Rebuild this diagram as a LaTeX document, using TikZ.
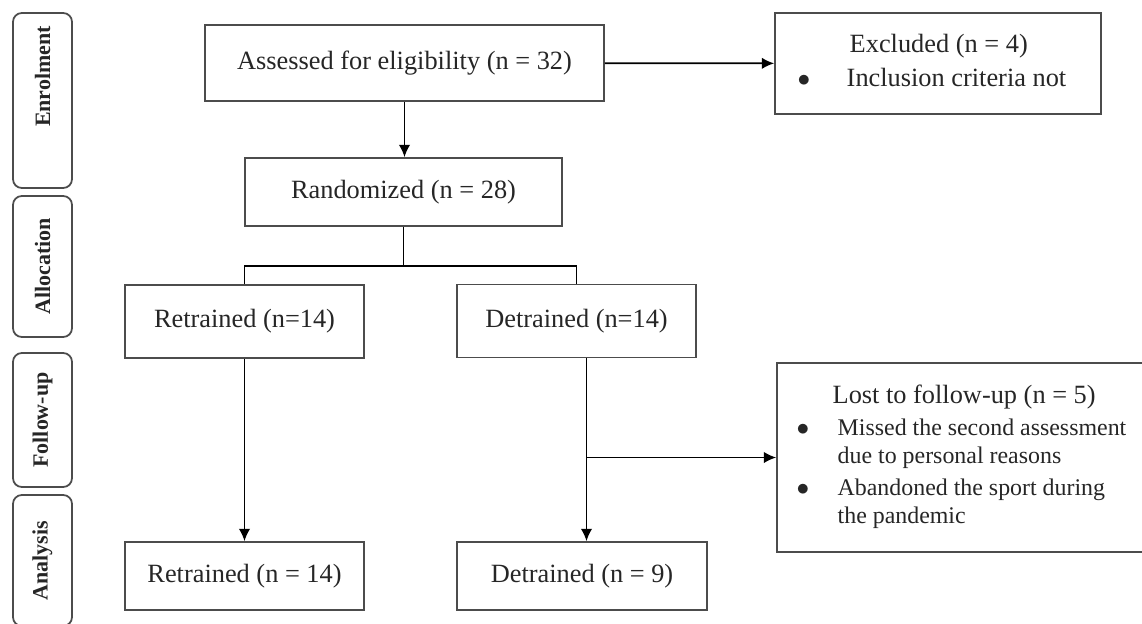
\documentclass[tikz,border=0pt]{standalone}
\usepackage{fontspec}
\setmainfont{Liberation Serif}
\usepackage{tikz}
\usetikzlibrary{arrows.meta, positioning, calc}

\newcommand{\itemsz}{\fontsize{13.6}{15.9}\selectfont}

\begin{document}
\begin{tikzpicture}[x=0.02cm, y=-0.02cm, >={Latex[length=7pt,width=6.5pt]},
line width=1pt,
box/.style={rectangle, draw=black!70, inner sep=0pt, text=black!85,
  font=\fontsize{15}{18}\selectfont},
phase/.style={rectangle, rounded corners=5pt, draw=black!70, rotate=90,
  inner sep=0pt, minimum height=1.18cm, text=black!85,
  font=\bfseries\fontsize{12.5}{14}\selectfont}]

\useasboundingbox (0,0) rectangle (1142,623);

% phases on the left
\node [phase, minimum width=3.5cm, inner xsep=0.26cm, text width=2.98cm,
  align=right] (enrol) at (42.5,100.5) {Enrolment};
\node [phase, minimum width=2.82cm] (alloc) at (42.5,266.5) {Allocation};
\node [phase, minimum width=2.68cm] (follow) at (42.5,420) {Follow-up};
\node [phase, minimum width=2.62cm] (anal) at (42.5,560.5) {Analysis};

% enrolment
\node [box, minimum width=7.98cm, minimum height=1.52cm] (assess) at (404.5,63)
  {Assessed for eligibility (n = 32)};
\node [box, minimum width=6.52cm, minimum height=2.02cm] (excl) at (938,63.5)
  {\begin{tabular}{@{}p{0.98cm}@{}l@{\hspace{0.24cm}}}
   \multicolumn{2}{@{}l@{\hspace{0.24cm}}}{\hspace{1.04cm}Excluded (n = 4)}\\[1.3pt]
   $\bullet$ & Inclusion criteria not
   \end{tabular}};
\path (assess) edge [->] (excl);

% allocation
\node [box, minimum width=6.34cm, minimum height=1.36cm] (rand) at (403.5,192)
  {Randomized (n = 28)};
\draw [->] (assess.south) -- (assess.south |- rand.north);

\node [box, minimum width=4.78cm, minimum height=1.46cm] (retA) at (244.5,321.5)
  {Retrained (n=14)};
\node [box, minimum width=4.78cm, minimum height=1.46cm] (detA) at (576.5,321)
  {Detrained (n=14)};
\coordinate (split) at ([yshift=-0.78cm]rand.south);
\draw (rand.south) -- (split);
\draw (retA.north) |- (split) -| (detA.north);

% follow-up
\node [box, minimum width=7.38cm, minimum height=3.78cm] (lost) at (961.5,457.5)
  {\itemsz\begin{tabular}{@{}p{0.82cm}@{}l@{}}
   \multicolumn{2}{@{}l@{}}{\fontsize{15}{18}\selectfont\hspace{0.72cm}Lost to follow-up (n = 5)}\\[2.5pt]
   $\bullet$ & Missed the second assessment\\
   & due to personal reasons\\[2.3pt]
   $\bullet$ & Abandoned the sport during\\
   & the pandemic
   \end{tabular}};

% analysis
\node [box, minimum width=4.78cm, minimum height=1.36cm] (retB) at (244.5,576)
  {Retrained (n = 14)};
\node [box, minimum width=5cm, minimum height=1.36cm] (detB) at (582,576)
  {Detrained (n = 9)};

\draw [->] (retA) -- (retB);
\coordinate (detdrop) at ([xshift=0.2cm]detA.south);
\coordinate (branch) at (detdrop |- lost.west);
\draw [->] (detdrop) -- (detdrop |- detB.north);
\draw [->] (branch) -- (lost.west);

\end{tikzpicture}
\end{document}
